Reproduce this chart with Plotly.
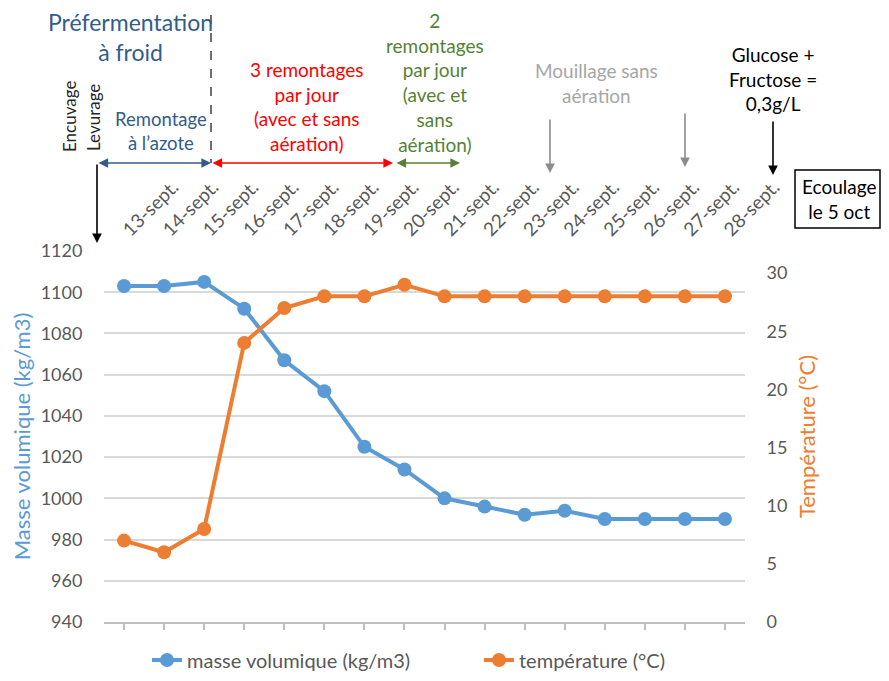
import plotly.graph_objects as go

# ---------------- data ----------------
dates = ["13-sept.", "14-sept.", "15-sept.", "16-sept.", "17-sept.", "18-sept.",
         "19-sept.", "20-sept.", "21-sept.", "22-sept.", "23-sept.", "24-sept.",
         "25-sept.", "26-sept.", "27-sept.", "28-sept."]
masse_volumique = [1103, 1103, 1105, 1092, 1067, 1052, 1025, 1014, 1000, 996,
                   992, 994, 990, 990, 990, 990]
temperature = [7, 6, 8, 24, 27, 28, 28, 29, 28, 28, 28, 28, 28, 28, 28, 28]
left_ticks = [940, 960, 980, 1000, 1020, 1040, 1060, 1080, 1100, 1120]
right_ticks = [0, 5, 10, 15, 20, 25, 30]

OFF = 8  # page body margin
W, H = 889 - 2 * OFF, 681 - 2 * OFF
FONT = "Lato, Carlito, Calibri, sans-serif"
BLUE = "#5B9BD5"
ORANGE = "#ED7D31"
GREY_TXT = "#595959"
DARKBLUE = "#335C8A"
GREEN = "#548235"


def px(x):
    return (x - OFF) / W


def py(y):
    return 1 - (y - OFF) / H


idx = list(range(len(dates)))

fig = go.Figure()
fig.add_trace(go.Scatter(
    x=idx, y=masse_volumique, name="masse volumique (kg/m3)",
    mode="lines+markers", line=dict(color=BLUE, width=4),
    marker=dict(color=BLUE, size=14), xaxis="x", yaxis="y"))
fig.add_trace(go.Scatter(
    x=idx, y=temperature, name="température (°C)",
    mode="lines+markers", line=dict(color=ORANGE, width=4),
    marker=dict(color=ORANGE, size=14), xaxis="x", yaxis="y2"))
# invisible trace carrying the top date axis
fig.add_trace(go.Scatter(
    x=idx, y=masse_volumique, mode="markers", marker=dict(opacity=0),
    showlegend=False, hoverinfo="skip", xaxis="x2", yaxis="y"))

ydom = [py(622), py(251)]
xdom = [px(104), px(745)]

fig.update_layout(
    width=W, height=H,
    margin=dict(l=0, r=0, t=0, b=0, autoexpand=False),
    paper_bgcolor="white", plot_bgcolor="white",
    font=dict(family=FONT, color=GREY_TXT, size=18),
    showlegend=True,
    legend=dict(orientation="h", x=px(147), xanchor="left", y=py(660),
                yanchor="middle", font=dict(size=20, color=GREY_TXT),
                entrywidth=287, entrywidthmode="pixels",
                bgcolor="rgba(0,0,0,0)"),
    xaxis=dict(domain=xdom, range=[-0.5, len(dates) - 0.5], automargin=False,
               tickmode="array", tickvals=idx, ticktext=[""] * len(dates),
               tickson="boundaries", ticks="outside", ticklen=6,
               tickcolor="#BFBFBF", tickwidth=1.5,
               showline=True, linecolor="#BFBFBF", linewidth=1.5,
               showgrid=False, zeroline=False, showticklabels=False,
               anchor="y"),
    xaxis2=dict(domain=xdom, range=[-0.5, len(dates) - 0.5], automargin=False,
                overlaying="x", side="top", anchor="free", position=py(244),
                tickmode="array", tickvals=idx, ticktext=dates,
                tickangle=-45, ticks="", showline=False, showgrid=False,
                zeroline=False, tickfont=dict(size=19, color=GREY_TXT)),
    yaxis=dict(domain=ydom, range=[940, 1120], tickmode="array", automargin=False,
               tickvals=left_ticks, showgrid=True, gridcolor="#D9D9D9",
               gridwidth=1.5, zeroline=False, showline=False,
               ticks="outside", ticklen=17, tickcolor="rgba(0,0,0,0)",
               tickfont=dict(size=18, color=GREY_TXT),
               title=dict(text="Masse volumique (kg/m3)",
                          font=dict(size=22, color=BLUE), standoff=4)),
    yaxis2=dict(domain=ydom, overlaying="y", side="right", anchor="x",
                range=[0, 31.9], tickmode="array", tickvals=right_ticks,
                automargin=False,
                showgrid=False, zeroline=False, showline=False,
                ticks="outside", ticklen=17, tickcolor="rgba(0,0,0,0)",
                tickfont=dict(size=18, color=GREY_TXT),
                title=dict(text="Température (°C)",
                           font=dict(size=22, color=ORANGE), standoff=13)),
)

ann = []


def text(t, x, y, color, size, angle=0):
    ann.append(dict(text=t, x=px(x), y=py(y), xref="paper", yref="paper",
                    showarrow=False, xanchor="center", yanchor="middle",
                    font=dict(family=FONT, size=size, color=color),
                    textangle=angle, align="center"))


def arrow(xh, yh, ax, ay, color, both=False, width=1.6):
    ann.append(dict(text="", x=px(xh), y=py(yh), xref="paper", yref="paper",
                    showarrow=True, ax=ax, ay=ay, axref="pixel", ayref="pixel",
                    arrowhead=2, arrowsize=1.2, arrowwidth=width,
                    arrowcolor=color,
                    arrowside="end+start" if both else "end"))


text("Préfermentation<br>à froid", 130, 37, DARKBLUE, 23)
text("Encuvage", 69, 117, "#262626", 17, -90)
text("Levurage", 93, 118, "#262626", 17, -90)
text("Remontage<br>à l’azote", 161, 131, DARKBLUE, 18.5)
text("3 remontages<br>par jour<br>(avec et sans<br>aération)", 307, 106, "#FF0000", 19)
text("2<br>remontages<br>par jour<br>(avec et<br>sans<br>aération)", 435, 83, GREEN, 19)
text("Mouillage sans<br>aération", 596, 83, "#A6A6A6", 19)
text("Glucose +<br>Fructose =<br>0,3g/L", 773, 79, "#000000", 19)
text("Ecoulage<br>le 5 oct", 839, 199, "#000000", 19)

arrow(97, 243, 0, -80, "#000000")
arrow(211, 163, -114, 0, DARKBLUE, both=True)
arrow(393, 163, -182, 0, "#FF0000", both=True)
arrow(460, 163, -65, 0, GREEN, both=True)
arrow(550, 173, 0, -55, "#8C8C8C")
arrow(685, 167, 0, -55, "#8C8C8C")
arrow(773, 175, 0, -55, "#000000")

fig.update_layout(annotations=ann)

fig.add_shape(type="line", xref="paper", yref="paper",
              x0=px(211), x1=px(211), y0=py(15), y1=py(163),
              line=dict(color="#404040", width=1.5, dash="dash"))
fig.add_shape(type="rect", xref="paper", yref="paper",
              x0=px(795), x1=px(880), y0=py(228), y1=py(170),
              line=dict(color="#000000", width=1.5))

fig.write_html("out.html")
